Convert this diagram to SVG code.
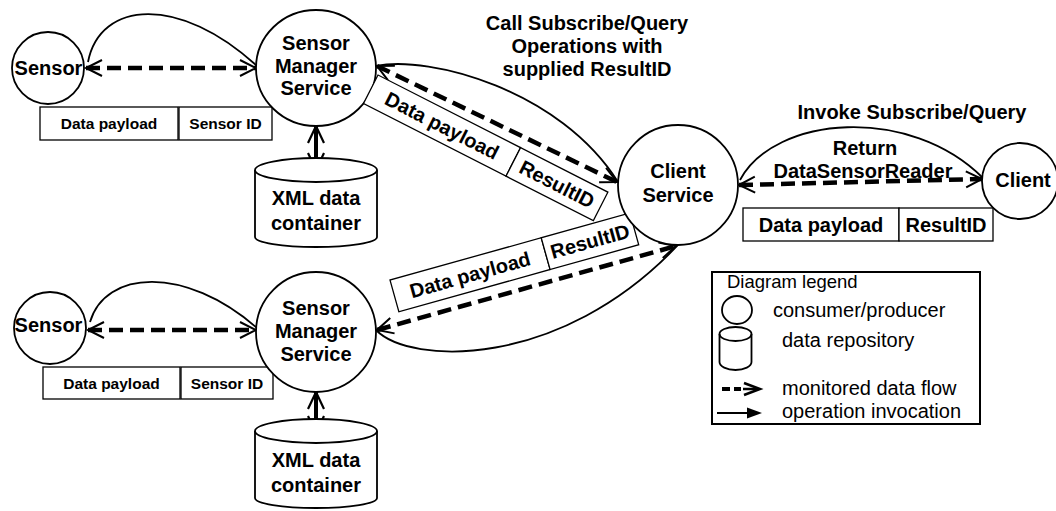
<svg xmlns="http://www.w3.org/2000/svg" width="1056" height="511" viewBox="0 0 1056 511">
<style>
.node{fill:#fff;stroke:#000;stroke-width:1.8}
.box{fill:#fff;stroke:#000;stroke-width:1.3}
.t{font-family:"Liberation Sans",Arial,sans-serif;font-weight:bold;font-size:20px;fill:#000;text-anchor:middle}
.ts{font-family:"Liberation Sans",Arial,sans-serif;font-weight:bold;font-size:15.5px;fill:#000;text-anchor:middle}
.lg{font-family:"Liberation Sans",Arial,sans-serif;font-size:20px;fill:#000}
.dash{fill:none;stroke:#000;stroke-width:4.5;stroke-dasharray:14 7}
.curve{fill:none;stroke:#000;stroke-width:1.8}
</style>
<defs>
<marker id="ah" markerUnits="userSpaceOnUse" markerWidth="40" markerHeight="40" viewBox="-20 -20 40 40" refX="0" refY="0" orient="auto-start-reverse">
<path d="M-16,-8 L0,0 L-16,8" fill="none" stroke="#000" stroke-width="2"/>
</marker>
<marker id="ah2" markerUnits="userSpaceOnUse" markerWidth="50" markerHeight="50" viewBox="-25 -25 50 50" refX="0" refY="0" orient="auto-start-reverse">
<path d="M-17,-8 L0,0 L-17,8" fill="none" stroke="#000" stroke-width="2.2"/>
</marker>
</defs>

<g id="connectors">
<path class="curve" d="M88,62 C100,0 180,-5 257,66"/>
<line class="dash" x1="86" y1="68" x2="256" y2="68" marker-start="url(#ah)" marker-end="url(#ah)"/>
<path class="curve" d="M90,322 C105,270 185,265 257,328"/>
<line class="dash" x1="88" y1="330" x2="256" y2="330" marker-start="url(#ah)" marker-end="url(#ah)"/>
<line x1="316" y1="126" x2="316" y2="170" stroke="#000" stroke-width="4" marker-start="url(#ah2)" marker-end="url(#ah2)"/>
<line x1="316" y1="392" x2="316" y2="433" stroke="#000" stroke-width="4" marker-start="url(#ah2)" marker-end="url(#ah2)"/>
<path class="curve" d="M376,66 C430,55 560,90 618,182"/>
<line class="dash" x1="377" y1="66" x2="617" y2="182" marker-start="url(#ah)" marker-end="url(#ah)"/>
<path class="curve" d="M376,330 C410,365 560,370 678,245"/>
<line class="dash" x1="377" y1="330" x2="676" y2="246" marker-start="url(#ah)" marker-end="url(#ah)"/>
<path class="curve" d="M740,180 C775,115 910,105 983,178"/>
<line class="dash" x1="739" y1="185" x2="982" y2="179" marker-start="url(#ah)" marker-end="url(#ah)"/>
</g>

<g id="sensor-top">
<circle class="node" cx="48" cy="68" r="36"/>
<text class="t" x="48.5" y="75">Sensor</text>
</g>
<g id="sensor-top-payload">
<rect class="box" x="40" y="107" width="138" height="33"/>
<rect class="box" x="179" y="107" width="93" height="33"/>
<text class="ts" x="109" y="129">Data payload</text>
<text class="ts" x="225.5" y="129">Sensor ID</text>
</g>

<g id="sms-top">
<ellipse class="node" cx="316" cy="68" rx="60" ry="58"/>
<text class="t" x="316" y="50">Sensor</text>
<text class="t" x="316" y="73">Manager</text>
<text class="t" x="316" y="95">Service</text>
</g>

<g id="xml-top">
<path class="node" d="M255,170 L255,237 A61,10 0 0 0 377,237 L377,170"/>
<ellipse class="node" cx="316" cy="170" rx="61" ry="12"/>
<text class="t" x="316" y="205">XML data</text>
<text class="t" x="316" y="230">container</text>
</g>

<g id="sensor-bottom">
<circle class="node" cx="50" cy="328" r="36"/>
<text class="t" x="48.5" y="332">Sensor</text>
</g>
<g id="sensor-bottom-payload">
<rect class="box" x="43" y="367" width="137" height="32"/>
<rect class="box" x="181" y="367" width="92" height="32"/>
<text class="ts" x="111.5" y="388.5">Data payload</text>
<text class="ts" x="227" y="388.5">Sensor ID</text>
</g>

<g id="sms-bottom">
<ellipse class="node" cx="316" cy="332" rx="60" ry="60"/>
<text class="t" x="316" y="315">Sensor</text>
<text class="t" x="316" y="338">Manager</text>
<text class="t" x="316" y="361">Service</text>
</g>

<g id="xml-bottom">
<path class="node" d="M255,431 L255,498 A61,10 0 0 0 377,498 L377,431"/>
<ellipse class="node" cx="316" cy="431" rx="61" ry="12"/>
<text class="t" x="316" y="467">XML data</text>
<text class="t" x="316" y="492">container</text>
</g>

<g id="payload-upper" transform="translate(378,75) rotate(27)">
<rect class="box" x="0" y="0" width="160" height="32"/>
<rect class="box" x="160" y="0" width="98" height="32"/>
<text class="t" x="80" y="23">Data payload</text>
<text class="t" x="209" y="23">ResultID</text>
</g>

<g id="payload-lower" transform="translate(390,280) rotate(-15.6)">
<rect class="box" x="0" y="0" width="157" height="33"/>
<rect class="box" x="157" y="0" width="92" height="33"/>
<text class="t" x="78.5" y="23.5">Data payload</text>
<text class="t" x="203" y="23.5">ResultID</text>
</g>

<g id="label-call">
<text class="t" x="587" y="30">Call Subscribe/Query</text>
<text class="t" x="587" y="53">Operations with</text>
<text class="t" x="587" y="76">supplied ResultID</text>
</g>

<g id="client-service">
<circle class="node" cx="678" cy="185" r="60"/>
<text class="t" x="678" y="178">Client</text>
<text class="t" x="678" y="202">Service</text>
</g>

<g id="client">
<circle class="node" cx="1020" cy="181" r="38"/>
<text class="t" x="1023" y="187">Client</text>
</g>

<g id="label-invoke">
<text class="t" x="912" y="119">Invoke Subscribe/Query</text>
<text class="t" x="865" y="155">Return</text>
<text class="t" x="863" y="178">DataSensorReader</text>
</g>

<g id="client-payload">
<rect class="box" x="743" y="208" width="156" height="33"/>
<rect class="box" x="899" y="208" width="94" height="33"/>
<text class="t" x="821" y="231.5">Data payload</text>
<text class="t" x="946" y="231.5">ResultID</text>
</g>

<g id="legend">
<rect x="712" y="272" width="268" height="152" fill="#fff" stroke="#000" stroke-width="2"/>
<text class="lg" x="727" y="288" style="font-size:18.5px">Diagram legend</text>
<ellipse cx="737" cy="310" rx="15" ry="14" fill="none" stroke="#000" stroke-width="1.8"/>
<text class="lg" x="773" y="317">consumer/producer</text>
<path d="M719.5,334 L719.5,362 A16,8 0 0 0 751.5,362 L751.5,334" fill="none" stroke="#000" stroke-width="1.8"/>
<ellipse cx="735.5" cy="334" rx="16" ry="7" fill="none" stroke="#000" stroke-width="1.8"/>
<text class="lg" x="782" y="347">data repository</text>
<line x1="722" y1="389" x2="730" y2="389" stroke="#000" stroke-width="4"/>
<line x1="734" y1="389" x2="741" y2="389" stroke="#000" stroke-width="4"/>
<line x1="743" y1="389" x2="758" y2="389" stroke="#000" stroke-width="2.5"/>
<path d="M744,383 L760,389 L744,395" fill="none" stroke="#000" stroke-width="2.5"/>
<text class="lg" x="782" y="395">monitored data flow</text>
<line x1="717" y1="413" x2="750" y2="413" stroke="#000" stroke-width="2"/>
<polygon points="747,407.5 762,413 747,418.5" fill="#000"/>
<text class="lg" x="782" y="418">operation invocation</text>
</g>
</svg>
